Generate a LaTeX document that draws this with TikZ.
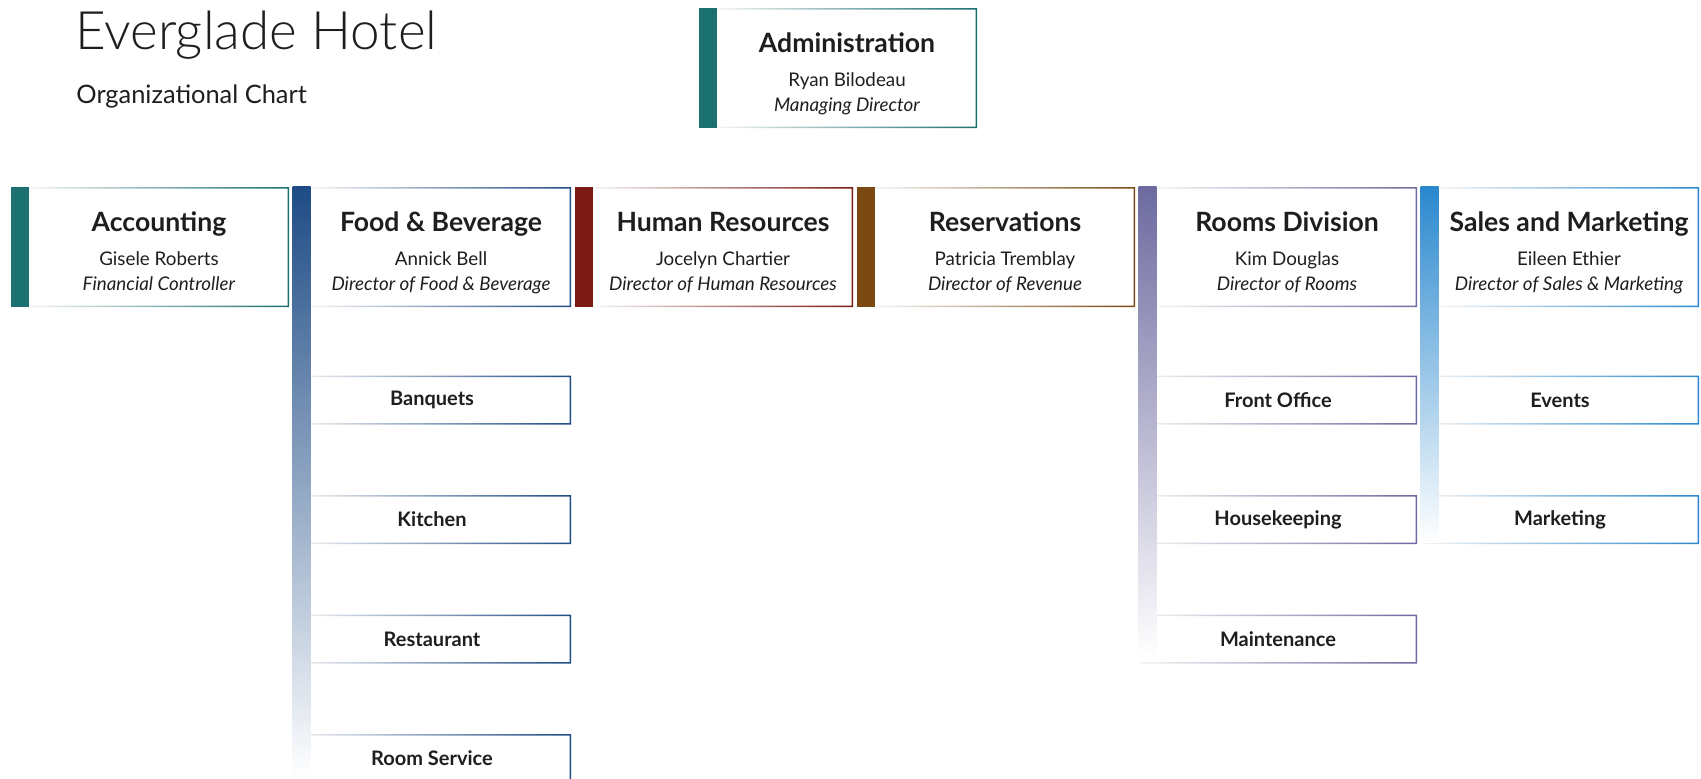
\documentclass[tikz,border=0pt]{standalone}
\usepackage{fontspec}
\setmainfont{Lato}
\newfontfamily\lightfont{Lato Light}
\usepackage{tikz}

\definecolor{tealc}{HTML}{1B7070}
\definecolor{navyc}{HTML}{1E4B85}
\definecolor{redc}{HTML}{7A1A12}
\definecolor{brownc}{HTML}{7A4A12}
\definecolor{purplec}{HTML}{6D6A9F}
\definecolor{bluec}{HTML}{2A88CE}
\definecolor{inkc}{HTML}{1E1E1E}

\newcommand{\unithead}[1]{\rule{0pt}{17pt}{\fontsize{13.3}{16}\selectfont\bfseries #1}\\[4.4pt]}
\newcommand{\unitrole}[1]{\textit{#1}\rule[-3pt]{0pt}{3pt}}

\begin{document}
\begin{tikzpicture}[
x=0.5pt, y=-0.5pt,
frame/.style={path picture={
  \shade[even odd rule, left color=black!4, right color=#1]
    (path picture bounding box.south west) rectangle (path picture bounding box.north east)
    ([yshift=0.75pt]path picture bounding box.south west) rectangle ([shift={(-0.75pt,-0.75pt)}]path picture bounding box.north east);
}},
unit/.style={frame=#1, minimum width=130pt, minimum height=60pt, inner sep=0pt, align=center, text=inkc, font=\fontsize{9.4}{12.5}\selectfont},
sub/.style={frame=#1, minimum width=139pt, minimum height=24.5pt, inner sep=0pt, text=inkc, font=\fontsize{10}{12}\selectfont\bfseries}
]
\useasboundingbox (0,0) rectangle (1701,778);

% titles
\node[anchor=base west, inner sep=0pt, text=inkc, font=\lightfont\fontsize{26.5}{30}\selectfont] (title) at (75,49) {Everglade Hotel};
\node[anchor=west, inner sep=0pt, text=inkc, font=\fontsize{12.7}{15}\selectfont] (subtitle) at (76,96) {Organizational Chart};

% top
\node[unit=tealc] (admin) at (847,68) {\unithead{Administration} Ryan Bilodeau\\ \unitrole{Managing Director}};

% departments
\node[unit=tealc] (acct) at (159,247) {\unithead{Accounting} Gisele Roberts\\ \unitrole{Financial Controller}};
\node[unit=navyc] (fandb) at (441,247) {\unithead{Food \& Beverage} Annick Bell\\ \unitrole{Director of Food \& Beverage}};
\node[unit=redc] (hr) at (723,247) {\unithead{Human Resources} Jocelyn Chartier\\ \unitrole{Director of Human Resources}};
\node[unit=brownc] (resv) at (1005,247) {\unithead{Reservations} Patricia Tremblay\\ \unitrole{Director of Revenue}};
\node[unit=purplec] (rooms) at (1287,247) {\unithead{Rooms Division} Kim Douglas\\ \unitrole{Director of Rooms}};
\node[unit=bluec] (sales) at (1569,247) {\unithead{Sales and Marketing} Eileen Ethier\\ \unitrole{Director of Sales \& Marketing}};

% sections
\node[sub=navyc] (banquets) at (432,400) {Banquets};
\node[sub=navyc, below of=banquets, node distance=59.75pt] (kitchen) {Kitchen};
\node[sub=navyc, below of=kitchen, node distance=59.75pt] (restaurant) {Restaurant};
\node[sub=navyc, below of=restaurant, node distance=59.75pt] (roomservice) {Room Service};

\node[sub=purplec] (frontoffice) at (1278,400) {Front Office};
\node[sub=purplec, below of=frontoffice, node distance=59.75pt] (housekeeping) {Housekeeping};
\node[sub=purplec, below of=housekeeping, node distance=59.75pt] (maintenance) {Maintenance};

\node[sub=bluec] (events) at (1560,400) {Events};
\node[sub=bluec, below of=events, node distance=59.75pt] (marketing) {Marketing};

% bars
\coordinate (fandbend) at (0,778);
\coordinate (roomsend) at (0,656);
\coordinate (salesend) at (0,542);
\fill[tealc] ([xshift=-9pt]admin.north west) rectangle (admin.south west);
\fill[tealc] ([xshift=-9pt]acct.north west) rectangle (acct.south west);
\shade[top color=navyc, bottom color=white] ([xshift=-9pt]fandb.north west) rectangle (fandb.west |- fandbend);
\fill[redc] ([xshift=-9pt]hr.north west) rectangle (hr.south west);
\fill[brownc] ([xshift=-9pt]resv.north west) rectangle (resv.south west);
\shade[top color=purplec, bottom color=white] ([xshift=-9pt]rooms.north west) rectangle (rooms.west |- roomsend);
\shade[top color=bluec, bottom color=white] ([xshift=-9pt]sales.north west) rectangle (sales.west |- salesend);

\end{tikzpicture}
\end{document}
